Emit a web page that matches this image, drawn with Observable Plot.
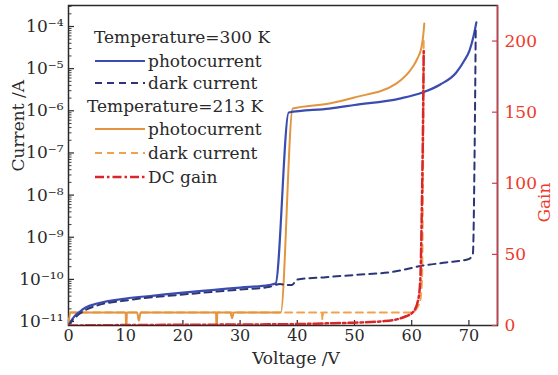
<!DOCTYPE html>
<html><head><meta charset="utf-8">
<script src="https://cdn.jsdelivr.net/npm/d3@7"></script>
<script src="https://cdn.jsdelivr.net/npm/@observablehq/plot@0.6"></script>
<style>
body{margin:0;background:#fff}
#wrap{position:relative;width:558px;height:375px}
#legend{position:absolute;left:0;top:0;pointer-events:none}
</style>
</head><body><div id="wrap"></div>
<script>
// ---- tick labels ----
const voltageTicks = [0, 10, 20, 30, 40, 50, 60, 70];
const currentTickExps = [-11, -10, -9, -8, -7, -6, -5, -4];
const gainTicks = [0, 50, 100, 150, 200];

// ---- 300 K photocurrent ----
const photo300V = [0, 0.5, 1, 2, 3, 5, 10, 15, 20, 25, 30, 35, 36.2, 38.5, 45.6, 50, 57.9, 61.9, 65, 67.8, 69.2, 70.1, 70.8, 71.3];
const photo300I = [8.05e-12, 1.05e-11, 1.31e-11, 1.73e-11, 2.15e-11, 2.67e-11, 3.51e-11, 4.13e-11, 4.87e-11, 5.58e-11, 6.40e-11, 7.34e-11, 7.96e-11, 9.1e-7, 1.13e-6, 1.37e-6, 1.95e-6, 2.71e-6, 4.2e-6, 8.1e-6, 1.56e-5, 2.69e-5, 5.8e-5, 1.25e-4];

// ---- 300 K dark current ----
const dark300V = [0, 0.5, 1, 2, 3, 5, 10, 20, 30, 35, 37, 38, 39, 40, 45, 50, 57, 62, 66, 70, 70.7, 71.0, 71.2];
const dark300I = [8.05e-12, 1.0e-11, 1.18e-11, 1.55e-11, 1.88e-11, 2.4e-11, 3.16e-11, 4.37e-11, 5.74e-11, 6.58e-11, 7.76e-11, 7.34e-11, 7.34e-11, 9.9e-11, 1.13e-10, 1.27e-10, 1.53e-10, 2.13e-10, 2.51e-10, 3.04e-10, 4.1e-10, 1.14e-7, 1.06e-4];

// ---- 213 K photocurrent ----
const photo213V = [0, 0.3, 10.0, 10.05, 10.15, 10.2, 12.0, 12.3, 12.6, 25.8, 25.85, 25.95, 26.0, 28.3, 28.6, 28.9, 37.1, 39.2, 45.6, 50, 57.3, 60.1, 61.0, 61.7, 62.0, 62.2];
const photo213I = [8.05e-12, 1.63e-11, 1.63e-11, 8.1e-12, 8.1e-12, 1.63e-11, 1.63e-11, 1.05e-11, 1.63e-11, 1.63e-11, 8.1e-12, 8.1e-12, 1.63e-11, 1.63e-11, 1.2e-11, 1.63e-11, 1.63e-11, 1.13e-6, 1.49e-6, 2.07e-6, 4.43e-6, 1.06e-5, 1.74e-5, 3.18e-5, 5.8e-5, 1.18e-4];

// ---- 213 K dark current ----
const dark213V = [0, 0.3, 44.3, 44.4, 44.5, 60, 61.4, 61.8, 61.95, 62.1];
const dark213I = [8.05e-12, 1.63e-11, 1.63e-11, 1.1e-11, 1.63e-11, 1.63e-11, 2.82e-11, 9.3e-11, 7.4e-9, 5.2e-5];

// ---- 213 K DC gain ----
const gainV = [0, 10, 20, 30, 40, 45, 50, 55, 58, 59, 60.2, 61.1, 61.5, 61.8, 62.0, 62.1];
const gainG = [0, 0.3, 0.5, 0.7, 1.0, 1.5, 2.0, 3.0, 5.0, 6.5, 9.3, 17.5, 31.6, 90, 150, 193];

// ---- scales ----
const yDomain = [8.05e-12, 3.15e-4];
const gainMax = 225;
const lb = Math.log10(yDomain[0]), lt = Math.log10(yDomain[1]);
const gToI = g => Math.pow(10, lb + g / gainMax * (lt - lb));

const zip = (V, Y) => V.map((v, i) => ({v, y: Y[i]}));
const s300p = zip(photo300V, photo300I);
const s300d = zip(dark300V, dark300I);
const s213p = zip(photo213V, photo213I);
const s213d = zip(dark213V, dark213I);
const sGain = zip(gainV, gainG.map(gToI));

const supMap = {"-": "\u207B", "0": "\u2070", "1": "\u00B9", "2": "\u00B2", "3": "\u00B3", "4": "\u2074", "5": "\u2075", "6": "\u2076", "7": "\u2077", "8": "\u2078", "9": "\u2079"};
const fmtExp = e => "10" + String(e).split("").map(c => supMap[c]).join("");
const majorTicks = currentTickExps.map(e => Math.pow(10, e));
const minorTicks = [];
for (let e = -12; e <= -4; e++) for (let m = 2; m <= 9; m++) {
  const v = m * Math.pow(10, e);
  if (v > yDomain[0] && v < yDomain[1]) minorTicks.push(v);
}

const W = 558, H = 375, mL = 68, mR = 61, mT = 5, mB = 50;
const innerW = W - mL - mR, innerH = H - mT - mB;
const black = "#2a2a2a", red = "#ee3a2a", redAxis = "#c8404e";
const blue = "#3a4cb0", navy = "#2c3575", orange = "#e2953e", orange2 = "#f2a24c", gainRed = "#d8262a";

const chart = Plot.plot({
  width: W, height: H,
  marginLeft: mL, marginRight: mR, marginTop: mT, marginBottom: mB,
  style: {fontFamily: "DejaVu Serif", fontSize: "17px", color: black, background: "#fff"},
  x: {domain: [0, 75]},
  y: {type: "log", domain: yDomain},
  marks: [
    Plot.frame({stroke: black, strokeWidth: 1.5}),
    Plot.ruleX([75], {stroke: redAxis, strokeWidth: 1.5}),
    // left axis
    Plot.axisY({ticks: majorTicks, tickFormat: d => fmtExp(Math.round(Math.log10(d))), tickSize: 0, tickPadding: 5, fill: black, label: null}),
    Plot.tickY(majorTicks, {y: d => d, insetRight: innerW - 6, stroke: black, strokeWidth: 1.2}),
    Plot.tickY(minorTicks, {y: d => d, insetRight: innerW - 3.5, stroke: black, strokeWidth: 0.9}),
    // right axis (gain)
    Plot.text(gainTicks, {y: d => gToI(d), text: d => String(d), frameAnchor: "right", dx: 7, textAnchor: "start", fill: red}),
    Plot.tickY(gainTicks, {y: d => gToI(d), insetLeft: innerW - 5, stroke: redAxis, strokeWidth: 1.2}),
    // bottom axis
    Plot.axisX({ticks: voltageTicks, tickSize: 0, tickPadding: 4, fontSize: 16, fill: black, label: null}),
    Plot.tickX(voltageTicks, {x: d => d, insetTop: innerH - 5, stroke: black, strokeWidth: 1.2}),
    // axis titles
    Plot.text(["Current /A"], {frameAnchor: "left", dx: -50, dy: 6, rotate: -90, fill: black}),
    Plot.text(["Gain"], {frameAnchor: "right", dx: 47, dy: 17, rotate: -90, fill: red}),
    Plot.text(["Voltage /V"], {frameAnchor: "bottom", dy: 38, dx: 13, fill: black}),
    // curves
    Plot.line(s213d, {x: "v", y: "y", stroke: orange2, strokeWidth: 2, strokeDasharray: "7,5", curve: "monotone-x", clip: true}),
    Plot.line(s213p, {x: "v", y: "y", stroke: orange, strokeWidth: 2, curve: "monotone-x", clip: true}),
    Plot.line(s300p, {x: "v", y: "y", stroke: blue, strokeWidth: 2.2, curve: "monotone-x", clip: true}),
    Plot.line(s300d, {x: "v", y: "y", stroke: navy, strokeWidth: 2, strokeDasharray: "7,5", curve: "monotone-x", clip: true}),
    Plot.line(sGain, {x: "v", y: "y", stroke: gainRed, strokeWidth: 2.5, strokeDasharray: "9,3,2.5,3", curve: "monotone-x", clip: true})
  ]
});

const wrap = document.getElementById("wrap");
wrap.appendChild(chart);

// ---- legend ----
const legendRows = [
  {type: "title", text: "Temperature=300 K", x: 94, y: 37},
  {type: "item", text: "photocurrent", y: 61, stroke: blue, dash: null, w: 2.2},
  {type: "item", text: "dark current", y: 83, stroke: navy, dash: "7,5", w: 2},
  {type: "title", text: "Temperature=213 K", x: 87, y: 106},
  {type: "item", text: "photocurrent", y: 129, stroke: orange, dash: null, w: 2},
  {type: "item", text: "dark current", y: 153, stroke: orange2, dash: "7,5", w: 2},
  {type: "item", text: "DC gain", y: 177, stroke: gainRed, dash: "9,3,2.5,3", w: 2.5}
];
const lg = d3.select(wrap).append("svg").attr("id", "legend").attr("width", W).attr("height", H)
  .style("font-family", "DejaVu Serif").style("font-size", "17px");
for (const r of legendRows) {
  if (r.type === "title") {
    lg.append("text").attr("x", r.x).attr("y", r.y).attr("dominant-baseline", "central").attr("fill", black).text(r.text);
  } else {
    const l = lg.append("line").attr("x1", 95).attr("x2", 145).attr("y1", r.y).attr("y2", r.y)
      .attr("stroke", r.stroke).attr("stroke-width", r.w);
    if (r.dash) l.attr("stroke-dasharray", r.dash);
    lg.append("text").attr("x", 148).attr("y", r.y).attr("dominant-baseline", "central").attr("fill", black).text(r.text);
  }
}
</script>
</body></html>
